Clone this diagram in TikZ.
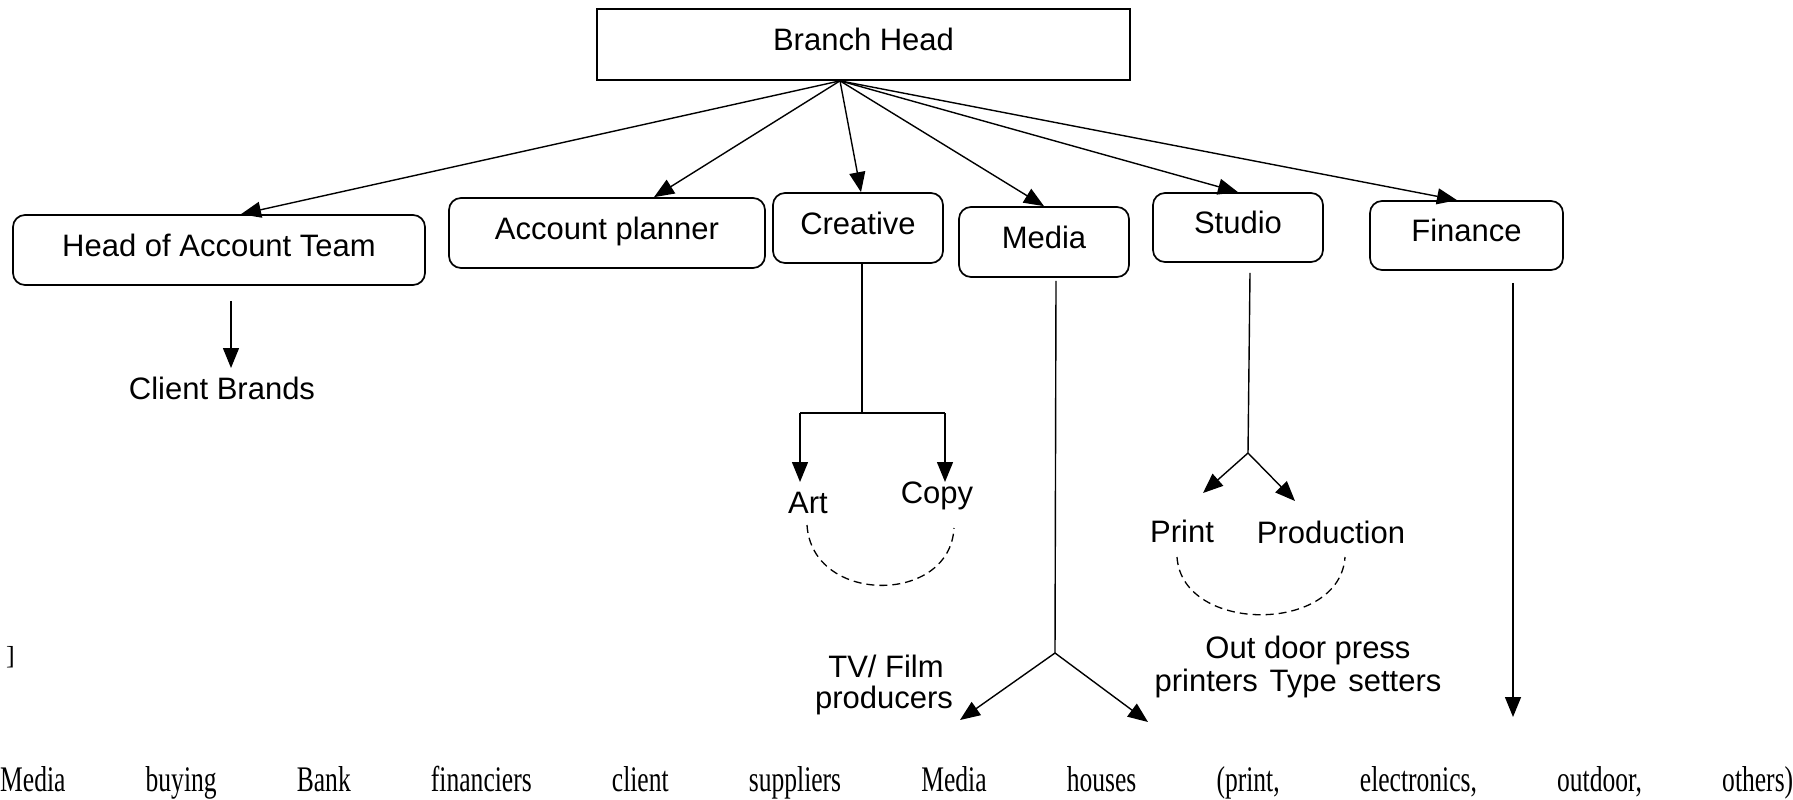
\documentclass[tikz,border=0pt]{standalone}
\usepackage{fontspec}
\setmainfont{Liberation Sans}
\newfontfamily\bodyfont[FakeStretch=0.71]{Liberation Serif}
\newfontfamily\brkfont{Liberation Serif}
\usetikzlibrary{arrows.meta}
\begin{document}
\begin{tikzpicture}[x=1pt,y=-1pt,
  plainbox/.style={draw, line width=1.7pt, inner sep=0pt, text height=22pt, text depth=10pt, font=\fontsize{31}{36}\selectfont},
  roundbox/.style={plainbox, rounded corners=12pt},
  lbl/.style={inner sep=0pt, font=\fontsize{31}{36}\selectfont},
  arr/.style={line width=1.4pt, -{Triangle[length=20pt,width=16pt]}},
  ln/.style={line width=1.4pt},
  dsh/.style={line width=1.3pt, dash pattern=on 8pt off 5pt}]
\useasboundingbox (0,0) rectangle (1793,800);
\fill[white] (0,0) rectangle (1793,800);

% boxes
\node[plainbox, minimum width=533pt, minimum height=71pt] (bh) at (863.5,44.5) {Branch Head};
\node[roundbox, minimum width=412pt, minimum height=70pt] (hoat) at (219,250) {Head of Account Team};
\node[roundbox, minimum width=316pt, minimum height=70pt] (ap) at (607,233) {Account planner};
\node[roundbox, minimum width=170pt, minimum height=70pt] (cr) at (858,228) {Creative};
\node[roundbox, minimum width=170pt, minimum height=70pt] (me) at (1044,242) {Media};
\node[roundbox, minimum width=170pt, minimum height=69pt] (st) at (1238,227.5) {Studio};
\node[roundbox, minimum width=193pt, minimum height=69pt] (fi) at (1466.5,235.5) {Finance};

% fan of arrows from Branch Head
\coordinate (o) at ([xshift=-23.5pt]bh.south);
\draw[arr] (o) -- ([xshift=22pt]hoat.north);
\draw[arr] (o) -- ([xshift=47pt]ap.north);
\draw[arr] (o) -- ([xshift=3pt]cr.north);
\draw[arr] (o) -- (me.north);
\draw[arr] (o) -- (st.north);
\draw[arr] (o) -- ([xshift=-9.5pt]fi.north);

% Head of Account Team -> Client Brands
\node[lbl, anchor=base] (cb) at (222,399) {Client Brands};
\coordinate (cbT) at (231,368);
\draw[arr] ([xshift=12pt,yshift=-15pt]hoat.south) -- (cbT);

% Creative -> Art / Copy
\coordinate (cj) at (862,413);
\coordinate (cjl) at (800,413);
\coordinate (cjr) at (945,413);
\coordinate (artT) at (800,482);
\coordinate (copyT) at (945,482);
\draw[ln] (cr.south -| cj) -- (cj);
\draw[ln] (cjl) -- (cjr);
\draw[arr] (cjl) -- (artT);
\draw[arr] (cjr) -- (copyT);
\node[lbl, anchor=base] (art) at (808,513) {Art};
\node[lbl, anchor=base] (copy) at (937,503) {Copy};
\draw[dsh] (807,525) .. controls (812,605) and (950,605) .. (954,528);

% Media -> TV/Film producers, Media houses
\coordinate (mj) at (1055,653);
\coordinate (mL) at (960,720);
\coordinate (mR) at (1148,722);
\draw[ln] ([xshift=12pt,yshift=-3pt]me.south) -- (mj);
\draw[arr] (mj) -- (mL);
\draw[arr] (mj) -- (mR);
\node[lbl, anchor=base] (tv1) at (886,677) {TV/ Film};
\node[lbl, anchor=base] (tv2) at (884,708) {producers};

% Studio -> Print / Production
\coordinate (sj) at (1248,453);
\coordinate (sL) at (1203,493);
\coordinate (sR) at (1295,501);
\draw[ln] ([xshift=12pt,yshift=-10pt]st.south) -- (sj);
\draw[arr] (sj) -- (sL);
\draw[arr] (sj) -- (sR);
\node[lbl, anchor=base] (pr) at (1182,542) {Print};
\node[lbl, anchor=base] (prod) at (1331,543) {Production};
\draw[dsh] (1177,557) .. controls (1182,634) and (1340,634) .. (1345,557);
\node[lbl, anchor=base] (od1) at (1308,658) {Out door press};
\node[lbl, anchor=base] (od2) at (1298,691) {printers\hspace{3pt} Type\hspace{3pt} setters};

% Finance
\coordinate (fT) at (1513,717);
\draw[arr] ([xshift=46.5pt,yshift=-12pt]fi.south) -- (fT);

% stray bracket
\node[anchor=base west, inner sep=0pt, font=\brkfont\fontsize{26}{26}\selectfont] (brk) at (6,664) {]};

% bottom line
\node[anchor=base west, inner sep=0pt] (bt) at (0,791) {\bodyfont\fontsize{36}{40}\selectfont\hbox to 1793pt{Media\hfill buying\hfill Bank\hfill financiers\hfill client\hfill suppliers\hfill Media\hfill houses\hfill (print,\hfill electronics,\hfill outdoor,\hfill others)}};
\end{tikzpicture}
\end{document}
